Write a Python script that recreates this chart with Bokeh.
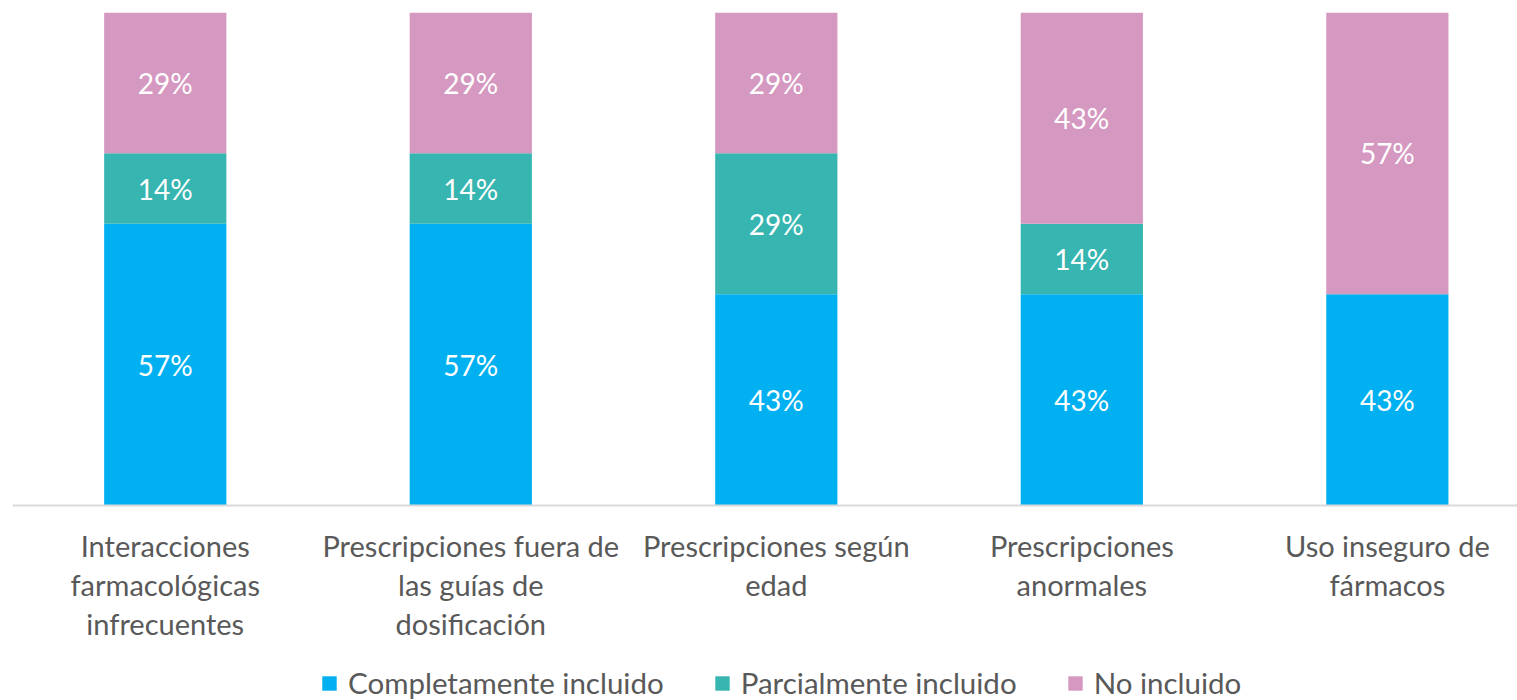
import numpy as np
from bokeh.plotting import figure
from bokeh.models import ColumnDataSource, Range1d, FixedTicker, Legend, LegendItem
from bokeh.core.properties import value
from bokeh.embed import file_html
from bokeh.resources import INLINE

categories = [
    "Interacciones\nfarmacológicas\ninfrecuentes",
    "Prescripciones fuera de\nlas guías de\ndosificación",
    "Prescripciones según\nedad",
    "Prescripciones\nanormales",
    "Uso inseguro de\nfármacos",
]
completo = [57.14, 57.14, 42.86, 42.86, 42.86]
parcial = [14.29, 14.29, 28.57, 14.29, 0.0]
no_incl = [28.57, 28.57, 28.57, 42.86, 57.14]
series_names = ["Completamente incluido", "Parcialmente incluido", "No incluido"]
colors = ["#00B0F0", "#36B5B1", "#D598C0"]

FONT = "Lato"
idx = np.arange(len(categories)) + 0.5
src = ColumnDataSource(dict(x=idx, c=completo, p=parcial, n=no_incl))

p = figure(width=1517, height=700, output_backend="svg", toolbar_location=None,
           x_range=Range1d(0, 4.926), y_range=Range1d(-39.55, 100),
           min_border_left=12, min_border_right=0, min_border_top=12,
           min_border_bottom=0)
p.outline_line_color = None
p.grid.visible = False
p.yaxis.visible = False

rs = p.vbar_stack(["c", "p", "n"], x="x", width=0.4, source=src,
                  color=colors, line_color=None)

# labels
c = np.array(completo); pa = np.array(parcial); n = np.array(no_incl)
lx, ly, lt = [], [], []
for i in range(len(categories)):
    segs = [(0, c[i]), (c[i], c[i] + pa[i]), (c[i] + pa[i], c[i] + pa[i] + n[i])]
    for (a, b) in segs:
        if b - a > 0:
            lx.append(idx[i]); ly.append((a + b) / 2); lt.append(f"{round(b - a)}%")
p.text(x=lx, y=ly, text=lt, text_color="white", text_font=value(FONT),
       text_font_size="28px", text_align="center", text_baseline="middle")

ax = p.xaxis[0]
ax.fixed_location = 0
ax.ticker = FixedTicker(ticks=list(idx))
ax.major_label_overrides = {float(v): lab for v, lab in zip(idx, categories)}
ax.major_tick_line_color = None
ax.minor_tick_line_color = None
ax.axis_line_color = "#D9D9D9"
ax.axis_line_width = 2
ax.major_label_text_font = FONT
ax.major_label_text_font_size = "29px"
ax.major_label_text_color = "#595959"
ax.major_label_text_line_height = 1.12
ax.major_label_standoff = 16

legend = Legend(items=[LegendItem(label=nm, renderers=[r]) for nm, r in zip(series_names, rs)],
                orientation="horizontal", location=(308, 0),
                label_text_font=FONT, label_text_font_size="29.5px",
                label_text_color="#595959", glyph_width=18, glyph_height=18,
                label_standoff=10, spacing=49, border_line_color=None,
                background_fill_alpha=0, padding=0, margin=0)
p.add_layout(legend, "center")

open("out.html", "w").write(file_html(p, INLINE))
